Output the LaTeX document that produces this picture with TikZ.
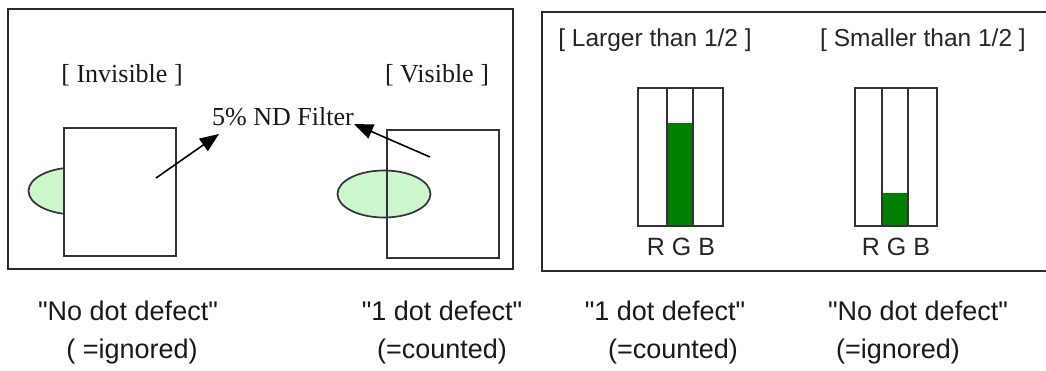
\documentclass[tikz,border=0pt]{standalone}
\usepackage{fontspec}
\setmainfont{Liberation Sans}[Ligatures=TeXOff]
\newfontfamily\serifface{Liberation Serif}
\usetikzlibrary{arrows.meta,shapes.geometric}
\definecolor{palegreen}{HTML}{CCF7CC}
\definecolor{bargreen}{HTML}{008000}
\definecolor{framegray}{HTML}{2A2A2A}
\definecolor{linegray}{HTML}{333333}
\newcommand{\dq}{\symbol{34}}
\tikzset{
  frame/.style={draw=framegray, line width=2pt},
  panel/.style={draw=linegray, line width=1.7pt, fill=white, minimum width=#1, inner sep=0pt},
  blob/.style={ellipse, draw=linegray, line width=1.7pt, fill=palegreen, minimum width=93pt, minimum height=47pt, inner sep=0pt},
  sertext/.style={font=\serifface\fontsize{26}{30}\selectfont, inner sep=0pt, text=black!90},
  sanstext/.style={font=\fontsize{24.5}{28}\selectfont, inner sep=0pt, text=black!85},
  captext/.style={font=\fontsize{27}{31}\selectfont, inner sep=0pt, text=black!90},
  pointer/.style={draw=black, line width=1.6pt, -{Triangle[length=19pt,width=15pt]}},
  barline/.style={draw=linegray, line width=1.7pt},
}
\begin{document}
\begin{tikzpicture}[x=1pt,y=-1pt]
\useasboundingbox (0,0) rectangle (1046,371);
\fill[white] (0,0) rectangle (1046,371);
% frames
\draw[frame] (8,9) rectangle (513,269);
\draw[frame] (1070,12) -- (542,12) -- (542,271) -- (1070,271);
% left panel
\node[blob] (lell) at (75,191) {};
\node[panel=112pt, minimum height=128pt] (lrect) at (120,192) {};
\node[blob] (rell) at (384,194) {};
\node[panel=112pt, minimum height=128pt, fill=none] (rrect) at (443,194) {};
\node[sertext] (inv) at (122,75) {[ Invisible ]};
\node[sertext] (vis) at (437,75) {[ Visible ]};
\node[sertext] (nd) at (283,117) {5\% ND Filter};
\coordinate (a1s) at (156,178);
\coordinate (a1e) at (219,134);
\coordinate (a2s) at (430,157);
\coordinate (a2e) at (354,124);
\draw[pointer] (a1s) -- (a1e);
\draw[pointer] (a2s) -- (a2e);
% right panel
\node[sanstext] (larger) at (655,40) {[ Larger than 1/2 ]};
\node[sanstext] (smaller) at (923,40) {[ Smaller than 1/2 ]};
% bar 1
\fill[bargreen] (667,123) rectangle (693,226);
\draw[barline] (638,88) rectangle (723,226);
\draw[barline] (667,88) -- (667,226);
\draw[barline] (693,88) -- (693,226);
\node[sanstext, font=\fontsize{25}{28}\selectfont] (rgb1) at (681,247) {R G B};
% bar 2
\fill[bargreen] (882,193) rectangle (908,226);
\draw[barline] (855,88) rectangle (937,226);
\draw[barline] (882,88) -- (882,226);
\draw[barline] (908,88) -- (908,226);
\node[sanstext, font=\fontsize{25}{28}\selectfont] (rgb2) at (896,247) {R G B};
% captions
\node[captext] (c1a) at (128,311) {\dq No dot defect\dq};
\node[captext] (c1b) at (132,352) {( =ignored)};
\node[captext] (c2a) at (442,311) {\dq 1 dot defect\dq};
\node[captext] (c2b) at (442,352) {(=counted)};
\node[captext] (c3a) at (665,311) {\dq 1 dot defect\dq};
\node[captext] (c3b) at (673,352) {(=counted)};
\node[captext] (c4a) at (918,311) {\dq No dot defect\dq};
\node[captext] (c4b) at (898,352) {(=ignored)};
\end{tikzpicture}
\end{document}
